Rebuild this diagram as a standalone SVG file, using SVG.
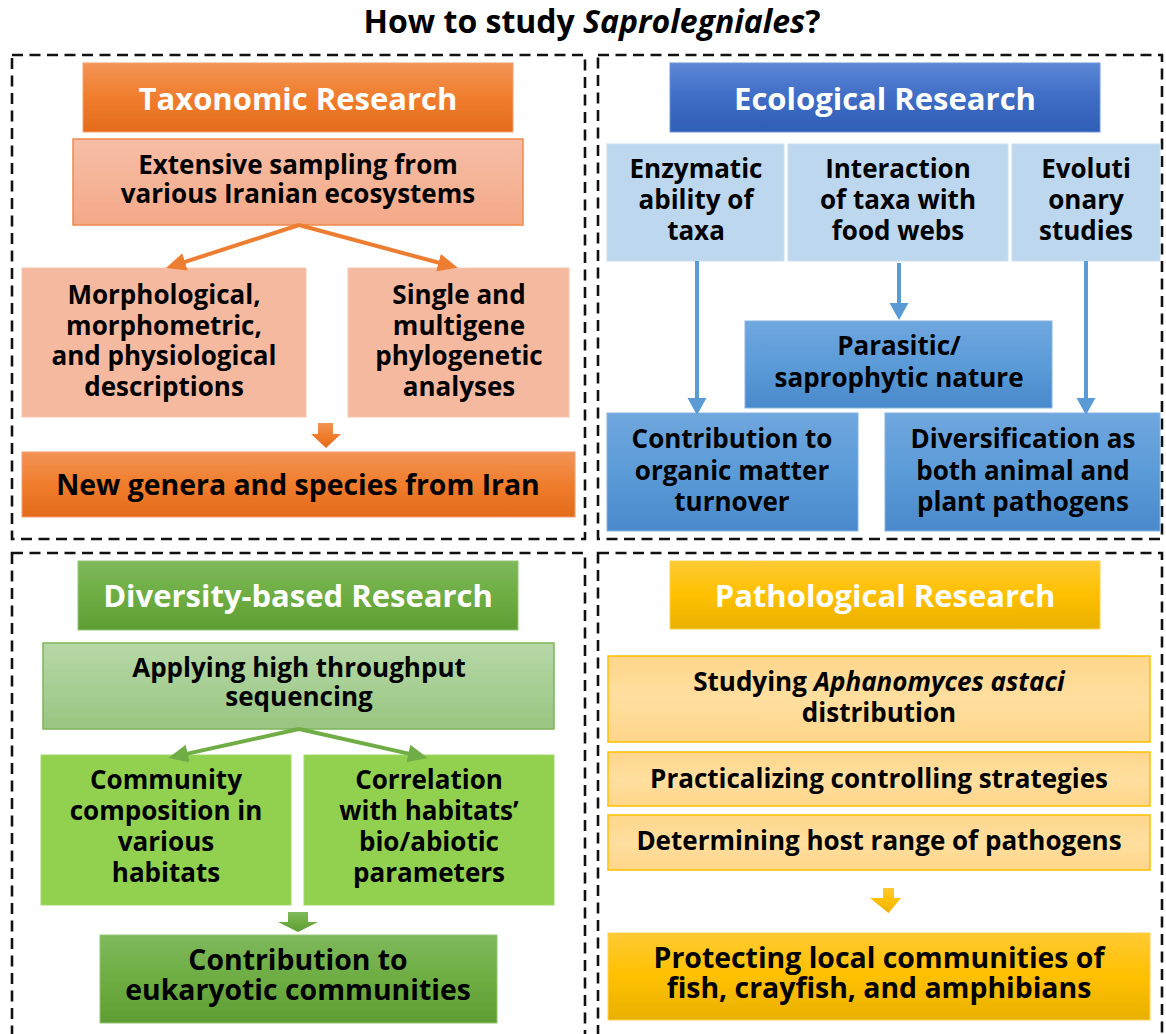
<svg xmlns="http://www.w3.org/2000/svg" width="1166" height="1034" viewBox="0 0 1166 1034">
  <style>
    text { font-family: "Open Sans", Lato, "Liberation Sans", sans-serif; font-weight: 700; text-anchor: middle; fill: #000; }
    .title { font-size: 32px; }
    .head { font-size: 31px; fill: #fff; }
    .body { font-size: 26px; }
    .big { font-size: 28.4px; }
    .frame { fill: none; stroke: #111; stroke-width: 2.6; stroke-dasharray: 11 6.5; }
    .conn-o { stroke: #ED7D31; stroke-width: 4; fill: none; }
    .conn-b { stroke: #5B9BD5; stroke-width: 4; fill: none; }
    .conn-g { stroke: #70AD47; stroke-width: 4; fill: none; }
  </style>
  <defs>
    <linearGradient id="gOrange" x1="0" y1="0" x2="0" y2="1">
      <stop offset="0" stop-color="#F29455"/>
      <stop offset="0.5" stop-color="#F07D2D"/>
      <stop offset="1" stop-color="#E36B19"/>
    </linearGradient>
    <linearGradient id="gSalmon" x1="0" y1="0" x2="0" y2="1">
      <stop offset="0" stop-color="#F6BEA6"/>
      <stop offset="1" stop-color="#F4A988"/>
    </linearGradient>
    <linearGradient id="gBlueHead" x1="0" y1="0" x2="0" y2="1">
      <stop offset="0" stop-color="#5C88D6"/>
      <stop offset="0.5" stop-color="#3F6CC5"/>
      <stop offset="1" stop-color="#2F5EB6"/>
    </linearGradient>
    <linearGradient id="gBlue" x1="0" y1="0" x2="0" y2="1">
      <stop offset="0" stop-color="#70A7DF"/>
      <stop offset="0.5" stop-color="#5B9BD7"/>
      <stop offset="1" stop-color="#4A89CB"/>
    </linearGradient>
    <linearGradient id="gGreen" x1="0" y1="0" x2="0" y2="1">
      <stop offset="0" stop-color="#7FB95C"/>
      <stop offset="0.5" stop-color="#6DAD42"/>
      <stop offset="1" stop-color="#5E9D34"/>
    </linearGradient>
    <linearGradient id="gPaleGreen" x1="0" y1="0" x2="0" y2="1">
      <stop offset="0" stop-color="#B7D8A9"/>
      <stop offset="0.5" stop-color="#A7CF94"/>
      <stop offset="1" stop-color="#98C581"/>
    </linearGradient>
    <linearGradient id="gGold" x1="0" y1="0" x2="0" y2="1">
      <stop offset="0" stop-color="#FFCA33"/>
      <stop offset="0.5" stop-color="#FFC000"/>
      <stop offset="1" stop-color="#E8B000"/>
    </linearGradient>
    <linearGradient id="gPaleGold" x1="0" y1="0" x2="0" y2="1">
      <stop offset="0" stop-color="#FFD68C"/>
      <stop offset="0.5" stop-color="#FFDF9F"/>
      <stop offset="1" stop-color="#FFD58A"/>
    </linearGradient>
    <marker id="headO" markerUnits="userSpaceOnUse" markerWidth="22" markerHeight="20" refX="14" refY="9" orient="auto">
      <path d="M0,0 L20,9 L0,18 Z" fill="#ED7D31"/>
    </marker>
    <marker id="headB" markerUnits="userSpaceOnUse" markerWidth="22" markerHeight="20" refX="11" refY="9.5" orient="auto">
      <path d="M0,0 L17,9.5 L0,19 Z" fill="#5B9BD5"/>
    </marker>
    <marker id="headG" markerUnits="userSpaceOnUse" markerWidth="22" markerHeight="20" refX="14" refY="9" orient="auto">
      <path d="M0,0 L20,9 L0,18 Z" fill="#70AD47"/>
    </marker>
  </defs>

  <text class="title" x="592" y="33">How to study <tspan font-style="italic">Saprolegniales</tspan>?</text>

  <!-- quadrant frames -->
  <g id="frames">
    <rect class="frame" x="12" y="55" width="573" height="484"/>
    <rect class="frame" x="598" y="55" width="564" height="484"/>
    <rect class="frame" x="12" y="553" width="573" height="500"/>
    <rect class="frame" x="598" y="553" width="564" height="500"/>
  </g>

  <!-- Taxonomic research -->
  <g id="taxonomic-header">
    <rect x="83" y="63" width="430" height="69" fill="url(#gOrange)" stroke="#F4A070" stroke-width="1"/>
    <text class="head" x="298" y="110">Taxonomic Research</text>
  </g>
  <g id="sampling">
    <rect x="73" y="139" width="450" height="86" fill="url(#gSalmon)" stroke="#EF8A4C" stroke-width="1.5"/>
    <text class="body"><tspan x="298" y="174">Extensive sampling from</tspan><tspan x="298" y="203">various Iranian ecosystems</tspan></text>
  </g>
  <g id="morphology">
    <rect x="22" y="268" width="284" height="149" fill="#F5B9A0" stroke="#F7C6B1" stroke-width="1"/>
    <text class="body"><tspan x="164" y="304">Morphological,</tspan><tspan x="164" y="335">morphometric,</tspan><tspan x="164" y="365">and physiological</tspan><tspan x="164" y="396">descriptions</tspan></text>
  </g>
  <g id="phylogeny">
    <rect x="348" y="268" width="221" height="149" fill="#F5B9A0" stroke="#F7C6B1" stroke-width="1"/>
    <text class="body"><tspan x="459" y="304">Single and</tspan><tspan x="459" y="335">multigene</tspan><tspan x="459" y="365">phylogenetic</tspan><tspan x="459" y="396">analyses</tspan></text>
  </g>
  <g id="new-taxa">
    <rect x="22" y="452" width="553" height="65" fill="url(#gOrange)" stroke="#F4A070" stroke-width="1"/>
    <text class="big" x="298" y="495">New genera and species from Iran</text>
  </g>

  <!-- Ecological research -->
  <g id="ecological-header">
    <rect x="670" y="63" width="430" height="69" fill="url(#gBlueHead)" stroke="#6E96DA" stroke-width="1"/>
    <text class="head" x="885" y="110">Ecological Research</text>
  </g>
  <g id="enzymatic">
    <rect x="607" y="144" width="177" height="117" fill="#BDD7EE" stroke="#C9DEF1" stroke-width="1"/>
    <text class="body"><tspan x="696" y="178">Enzymatic</tspan><tspan x="696" y="209">ability of</tspan><tspan x="696" y="240">taxa</tspan></text>
  </g>
  <g id="interaction">
    <rect x="788" y="144" width="220" height="117" fill="#BDD7EE" stroke="#C9DEF1" stroke-width="1"/>
    <text class="body"><tspan x="898" y="178">Interaction</tspan><tspan x="898" y="209">of taxa with</tspan><tspan x="898" y="240">food webs</tspan></text>
  </g>
  <g id="evolution">
    <rect x="1012" y="144" width="148" height="117" fill="#BDD7EE" stroke="#C9DEF1" stroke-width="1"/>
    <text class="body"><tspan x="1086" y="178">Evoluti</tspan><tspan x="1086" y="209">onary</tspan><tspan x="1086" y="240">studies</tspan></text>
  </g>
  <g id="lifestyle">
    <rect x="745" y="321" width="307" height="87" fill="url(#gBlue)" stroke="#85B4E2" stroke-width="1"/>
    <text class="body"><tspan x="899" y="355">Parasitic/</tspan><tspan x="899" y="387">saprophytic nature</tspan></text>
  </g>
  <g id="turnover">
    <rect x="607" y="413" width="251" height="118" fill="url(#gBlue)" stroke="#85B4E2" stroke-width="1"/>
    <text class="body"><tspan x="732" y="448">Contribution to</tspan><tspan x="732" y="480">organic matter</tspan><tspan x="732" y="511">turnover</tspan></text>
  </g>
  <g id="diversification">
    <rect x="885" y="413" width="275" height="118" fill="url(#gBlue)" stroke="#85B4E2" stroke-width="1"/>
    <text class="body"><tspan x="1023" y="448">Diversification as</tspan><tspan x="1023" y="480">both animal and</tspan><tspan x="1023" y="511">plant pathogens</tspan></text>
  </g>

  <!-- Diversity-based research -->
  <g id="diversity-header">
    <rect x="78" y="561" width="440" height="69" fill="url(#gGreen)" stroke="#93C574" stroke-width="1"/>
    <text class="head" x="298" y="607">Diversity-based Research</text>
  </g>
  <g id="sequencing">
    <rect x="43" y="643" width="511" height="86" fill="url(#gPaleGreen)" stroke="#7DB55A" stroke-width="1.5"/>
    <text class="body"><tspan x="299" y="677">Applying high throughput</tspan><tspan x="299" y="706">sequencing</tspan></text>
  </g>
  <g id="composition">
    <rect x="41" y="755" width="250" height="150" fill="#92D050" stroke="#A3D86B" stroke-width="1"/>
    <text class="body"><tspan x="166" y="789">Community</tspan><tspan x="166" y="820">composition in</tspan><tspan x="166" y="851">various</tspan><tspan x="166" y="882">habitats</tspan></text>
  </g>
  <g id="correlation">
    <rect x="304" y="755" width="250" height="150" fill="#92D050" stroke="#A3D86B" stroke-width="1"/>
    <text class="body"><tspan x="429" y="789">Correlation</tspan><tspan x="429" y="820">with habitats’</tspan><tspan x="429" y="851">bio/abiotic</tspan><tspan x="429" y="882">parameters</tspan></text>
  </g>
  <g id="eukaryotic">
    <rect x="100" y="935" width="397" height="88" fill="url(#gGreen)" stroke="#93C574" stroke-width="1"/>
    <text class="big"><tspan x="298" y="970">Contribution to</tspan><tspan x="298" y="1000">eukaryotic communities</tspan></text>
  </g>

  <!-- Pathological research -->
  <g id="pathological-header">
    <rect x="670" y="561" width="430" height="68" fill="url(#gGold)" stroke="#FFD250" stroke-width="1"/>
    <text class="head" x="885" y="607">Pathological Research</text>
  </g>
  <g id="aphanomyces">
    <rect x="608" y="656" width="542" height="86" fill="url(#gPaleGold)" stroke="#FFC000" stroke-width="1.5"/>
    <text class="body"><tspan x="879" y="691">Studying <tspan font-style="italic">Aphanomyces astaci</tspan></tspan><tspan x="879" y="722">distribution</tspan></text>
  </g>
  <g id="control">
    <rect x="608" y="752" width="542" height="54" fill="url(#gPaleGold)" stroke="#FFC000" stroke-width="1.5"/>
    <text class="body" x="879" y="788">Practicalizing controlling strategies</text>
  </g>
  <g id="host-range">
    <rect x="608" y="815" width="542" height="55" fill="url(#gPaleGold)" stroke="#FFC000" stroke-width="1.5"/>
    <text class="body" x="879" y="850">Determining host range of pathogens</text>
  </g>
  <g id="protection">
    <rect x="608" y="933" width="542" height="87" fill="url(#gGold)" stroke="#FFD250" stroke-width="1"/>
    <text class="big"><tspan x="879" y="968">Protecting local communities of</tspan><tspan x="879" y="998">fish, crayfish, and amphibians</tspan></text>
  </g>

  <!-- connectors -->
  <g id="connectors">
    <line class="conn-o" x1="299" y1="225" x2="171.7" y2="266.2" marker-end="url(#headO)"/>
    <line class="conn-o" x1="299" y1="225" x2="452" y2="266.3" marker-end="url(#headO)"/>
    <path d="M318,423 H333 V434 H341 L326,448 L311,434 H318 Z" fill="url(#gOrange)"/>

    <line class="conn-b" x1="697" y1="261" x2="697" y2="409" marker-end="url(#headB)"/>
    <line class="conn-b" x1="899" y1="263" x2="899" y2="314" marker-end="url(#headB)"/>
    <line class="conn-b" x1="1086" y1="261" x2="1086" y2="409" marker-end="url(#headB)"/>

    <line class="conn-g" x1="299" y1="729" x2="174" y2="756.6" marker-end="url(#headG)"/>
    <line class="conn-g" x1="299" y1="729" x2="422" y2="756.6" marker-end="url(#headG)"/>
    <path d="M288,912 H308 V922 H318 L298,932 L278,922 H288 Z" fill="url(#gGreen)"/>

    <path d="M883,888 H894 V898 H901 L888.5,913 L870,898 H883 Z" fill="url(#gGold)"/>
  </g>
</svg>
